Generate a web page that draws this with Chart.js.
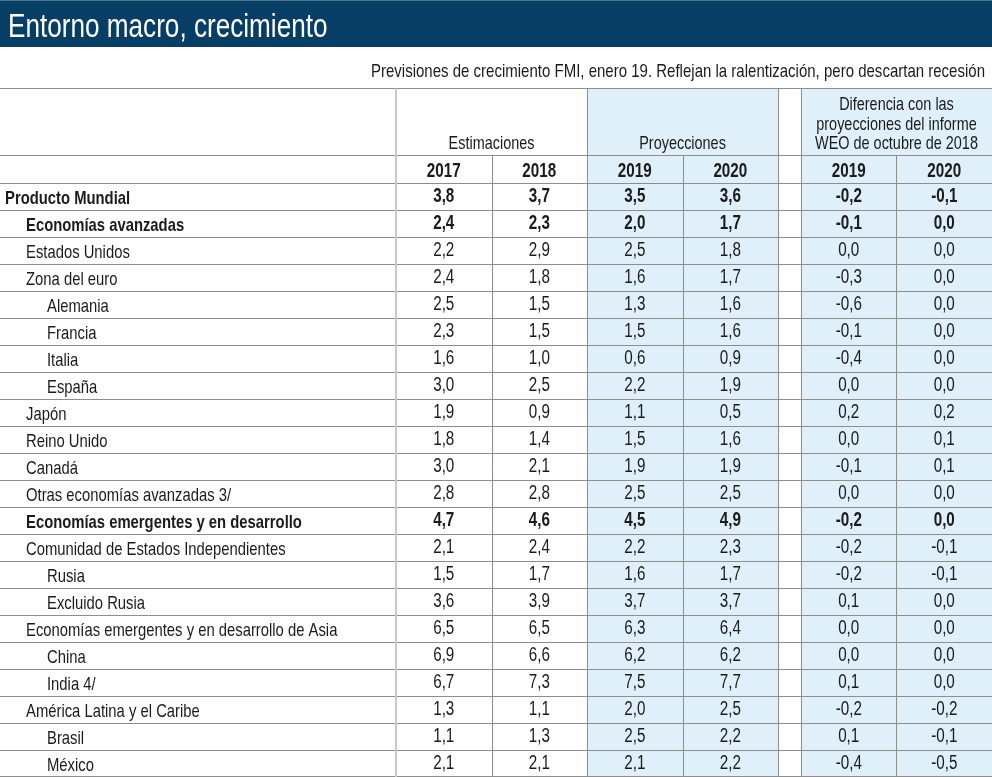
<!DOCTYPE html>
<html>
<head>
<meta charset="utf-8">
<script src="https://cdn.jsdelivr.net/npm/chart.js@4"></script>
<style>
  html, body { margin: 0; padding: 0; background: #fff; }
  canvas { display: block; }
</style>
</head>
<body>
<canvas id="tabla" width="992" height="777"></canvas>
<script>
// datos (FMI, enero 2019)
const titulo = 'Entorno macro, crecimiento';
const subtitulo = 'Previsiones de crecimiento FMI, enero 19. Reflejan la ralentización, pero descartan recesión';

const paises = [
  'Producto Mundial', 'Economías avanzadas', 'Estados Unidos', 'Zona del euro',
  'Alemania', 'Francia', 'Italia', 'España', 'Japón', 'Reino Unido', 'Canadá',
  'Otras economías avanzadas 3/', 'Economías emergentes y en desarrollo',
  'Comunidad de Estados Independientes', 'Rusia', 'Excluido Rusia',
  'Economías emergentes y en desarrollo de Asia', 'China', 'India 4/',
  'América Latina y el Caribe', 'Brasil', 'México'
];
const nivel = [0, 1, 1, 1, 2, 2, 2, 2, 1, 1, 1, 1, 1, 1, 2, 2, 1, 2, 2, 1, 2, 2];
const negrita = [0, 1, 12];

const est2017 = [3.8, 2.4, 2.2, 2.4, 2.5, 2.3, 1.6, 3.0, 1.9, 1.8, 3.0, 2.8, 4.7, 2.1, 1.5, 3.6, 6.5, 6.9, 6.7, 1.3, 1.1, 2.1];
const est2018 = [3.7, 2.3, 2.9, 1.8, 1.5, 1.5, 1.0, 2.5, 0.9, 1.4, 2.1, 2.8, 4.6, 2.4, 1.7, 3.9, 6.5, 6.6, 7.3, 1.1, 1.3, 2.1];
const proy2019 = [3.5, 2.0, 2.5, 1.6, 1.3, 1.5, 0.6, 2.2, 1.1, 1.5, 1.9, 2.5, 4.5, 2.2, 1.6, 3.7, 6.3, 6.2, 7.5, 2.0, 2.5, 2.1];
const proy2020 = [3.6, 1.7, 1.8, 1.7, 1.6, 1.6, 0.9, 1.9, 0.5, 1.6, 1.9, 2.5, 4.9, 2.3, 1.7, 3.7, 6.4, 6.2, 7.7, 2.5, 2.2, 2.2];
const dif2019 = [-0.2, -0.1, 0.0, -0.3, -0.6, -0.1, -0.4, 0.0, 0.2, 0.0, -0.1, 0.0, -0.2, -0.2, -0.2, 0.1, 0.0, 0.0, 0.1, -0.2, 0.1, -0.4];
const dif2020 = [-0.1, 0.0, 0.0, 0.0, 0.0, 0.0, 0.0, 0.0, 0.2, 0.1, 0.1, 0.0, 0.0, -0.1, -0.1, 0.0, 0.0, 0.0, 0.0, -0.2, -0.1, -0.5];

const grupos = ['Estimaciones', 'Proyecciones'];
const grupoDif = ['Diferencia con las', 'proyecciones del informe', 'WEO de octubre de 2018'];
const anios = ['2017', '2018', '2019', '2020', '2019', '2020'];

// columnas en unidades del eje x (hueco entre 4 y 4.24)
const GAP = 0.24;
const columnas = [
  { serie: est2017, c: 0.5 },
  { serie: est2018, c: 1.5 },
  { serie: proy2019, c: 2.5 },
  { serie: proy2020, c: 3.5 },
  { serie: dif2019, c: 4 + GAP + 0.5 },
  { serie: dif2020, c: 4 + GAP + 1.5 }
];

const FONT = '"Liberation Sans", Arial, sans-serif';
const NARROW = 0.78;
const LINEA = '#8e8e8e';
const AZUL = '#dff0fb';

function fmt(v) {
  return v.toFixed(1).replace('.', ',');
}

function texto(ctx, str, x, y, size, bold, align, color, sx) {
  sx = sx || NARROW;
  ctx.save();
  ctx.font = (bold ? 'bold ' : '') + size + 'px ' + FONT;
  const w = ctx.measureText(str).width * sx;
  let left = x;
  if (align === 'center') left = x - w / 2;
  if (align === 'right') left = x - w;
  ctx.translate(left, y);
  ctx.scale(sx, 1);
  ctx.fillStyle = color || '#1b1b1b';
  ctx.textAlign = 'left';
  ctx.textBaseline = 'alphabetic';
  ctx.fillText(str, 0, 0);
  ctx.restore();
}

function hline(ctx, y, x0, x1, color, w) {
  ctx.beginPath();
  ctx.strokeStyle = color;
  ctx.lineWidth = w || 1;
  ctx.moveTo(x0, y);
  ctx.lineTo(x1, y);
  ctx.stroke();
}

function vline(ctx, x, y0, y1, color, w) {
  ctx.beginPath();
  ctx.strokeStyle = color;
  ctx.lineWidth = w || 1;
  ctx.moveTo(x, y0);
  ctx.lineTo(x, y1);
  ctx.stroke();
}

const tablaPlugin = {
  id: 'tabla',
  afterDraw(chart) {
    const ctx = chart.ctx;
    const xs = chart.scales.x;
    const ys = chart.scales.y;
    const W = chart.width;
    const H = chart.height;
    const area = chart.chartArea;
    const px = v => xs.getPixelForValue(v);
    const cabTop = 88.5;
    const cabAnios = 155.5;
    const filaH = ys.getPixelForValue(1) - ys.getPixelForValue(0);

    // barra de título
    ctx.fillStyle = '#073e66';
    ctx.fillRect(0, 0, W, 47);
    hline(ctx, 0.5, 0, W, '#4d7391');
    texto(ctx, titulo, 8, 37, 33.5, false, 'left', '#ffffff');
    texto(ctx, subtitulo, 985, 77, 19, false, 'right', '#1b1b1b', 0.79);

    // fondos azules
    ctx.fillStyle = AZUL;
    ctx.fillRect(px(2), cabTop, px(4) - px(2), H - cabTop);
    ctx.fillRect(px(4 + GAP), cabTop, px(6 + GAP) - px(4 + GAP), H - cabTop);

    // líneas horizontales
    hline(ctx, cabTop, 0, W, LINEA);
    hline(ctx, cabAnios, 0, W, LINEA);
    paises.forEach((p, i) => {
      const y = Math.round(ys.getPixelForValue(i) - filaH / 2) + 0.5;
      hline(ctx, y, 0, W, LINEA);
    });
    hline(ctx, area.bottom - 0.5, 0, W, LINEA);

    // líneas verticales
    vline(ctx, area.left, cabTop, H, '#c9c9c9', 2);
    [1, 3, 5 + GAP].forEach(v => vline(ctx, Math.round(px(v)) + 0.5, cabAnios, H, LINEA));
    [2, 4, 4 + GAP].forEach(v => vline(ctx, Math.round(px(v)) + 0.5, cabTop, H, LINEA));

    // cabeceras
    texto(ctx, grupos[0], px(1), 149, 18.5, false, 'center');
    texto(ctx, grupos[1], px(3), 149, 18.5, false, 'center');
    grupoDif.forEach((t, k) => texto(ctx, t, px(5 + GAP), 110 + k * 19.5, 18.5, false, 'center'));
    columnas.forEach((col, k) => texto(ctx, anios[k], px(col.c), 177, 19.5, true, 'center', '#1b1b1b', 0.78));

    // filas
    paises.forEach((p, i) => {
      const yc = ys.getPixelForValue(i);
      const b = negrita.includes(i);
      texto(ctx, p, 5 + nivel[i] * 21, yc + 7, 19, b, 'left');
      columnas.forEach(col => {
        texto(ctx, fmt(col.serie[i]), px(col.c), yc + 5, 19.5, b, 'center');
      });
    });
  }
};

new Chart(document.getElementById('tabla').getContext('2d'), {
  type: 'scatter',
  data: { labels: paises, datasets: [] },
  options: {
    responsive: false,
    animation: false,
    devicePixelRatio: 1,
    layout: { padding: { top: 183, left: 396, right: 0, bottom: 0 } },
    plugins: { legend: { display: false }, tooltip: { enabled: false } },
    scales: {
      x: { type: 'linear', min: 0, max: 6 + GAP, display: false },
      y: { type: 'category', labels: paises, offset: true, display: false }
    }
  },
  plugins: [tablaPlugin]
});
</script>
</body>
</html>
